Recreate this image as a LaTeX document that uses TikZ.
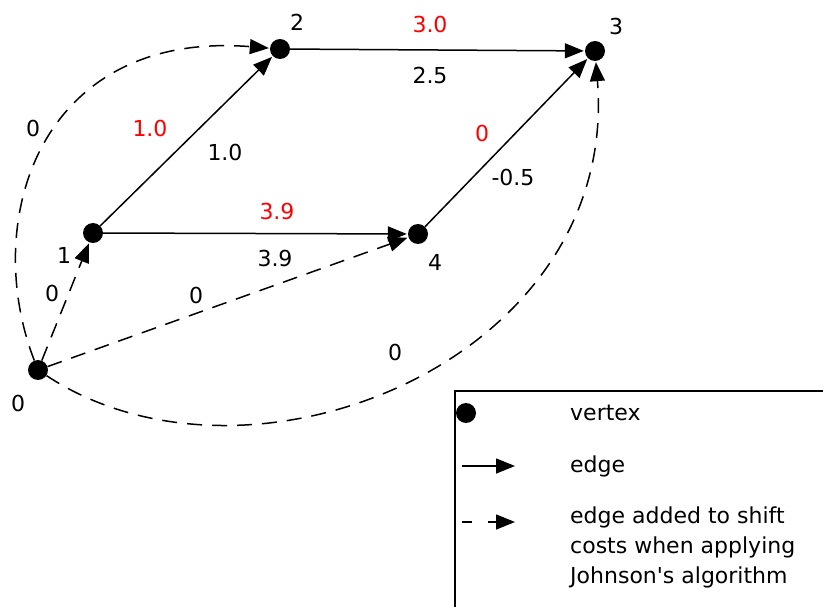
\documentclass[tikz,border=0pt]{standalone}
\usepackage{fontspec}
\setmainfont[Ligatures=NoCommon]{DejaVu Sans}
\usetikzlibrary{arrows.meta}
\begin{document}
\begin{tikzpicture}[x=1pt,y=-1pt,
  vert/.style={circle,fill=black,inner sep=0pt,minimum size=20pt},
  edg/.style={line width=1.5pt,-{Triangle[length=19pt,width=15pt]},shorten >=1pt},
  dedg/.style={edg,dash pattern=on 15pt off 10pt},
  lbl/.style={font=\fontsize{22}{26}\selectfont,inner sep=0pt},
  rlbl/.style={lbl,text={rgb,255:red,255;green,0;blue,0}}]
\useasboundingbox (0,0) rectangle (823,607);
\node[vert] (v0) at (38,370) {};
\node[vert] (v1) at (93,233) {};
\node[vert] (v2) at (280,49) {};
\node[vert] (v3) at (595,51) {};
\node[vert] (v4) at (418,234) {};
\node[lbl] (n0) at (18,403) {0};
\node[lbl] (n1) at (64,255) {1};
\node[lbl] (n2) at (297,22) {2};
\node[lbl] (n3) at (616,26) {3};
\node[lbl] (n4) at (435,262) {4};
\draw[edg] (v1) -- (v2);
\draw[edg] (v2) -- (v3);
\draw[edg] (v1) -- (v4);
\draw[edg] (v4) -- (v3);
\draw[dedg] (v0) -- (v1);
\draw[dedg] (v0) -- (v4);
\draw[dedg] (v0) .. controls (-20,220) and (40,30) .. (v2);
\draw[dedg] (v0) .. controls (250,510) and (620,360) .. (v3);
\node[rlbl] (r12) at (150,128) {1.0};
\node[lbl] (b12) at (225,152) {1.0};
\node[rlbl] (r23) at (430,24) {3.0};
\node[lbl] (b23) at (430,75) {2.5};
\node[rlbl] (r14) at (277,211) {3.9};
\node[lbl] (b14) at (275,258) {3.9};
\node[rlbl] (r43) at (482,133) {0};
\node[lbl] (b43) at (513,177) {-0.5};
\node[lbl] (d01) at (52,293) {0};
\node[lbl] (d04) at (196,295) {0};
\node[lbl] (d03) at (395,352) {0};
\node[lbl] (d02) at (33,128) {0};
% legend
\draw[line width=1.3pt] (830,391) -- (455,391) -- (455,615);
\node[circle,fill=black,inner sep=0pt,minimum size=20pt] (lv) at (466,413) {};
\node[lbl,anchor=west] (tv) at (570,413) {vertex};
\coordinate (le1) at (462,466);
\coordinate (le2) at (516,466);
\draw[edg] (le1) -- (le2);
\node[lbl,anchor=west] (te) at (570,466) {edge};
\coordinate (ld1) at (462,522);
\coordinate (ld2) at (516,522);
\draw[edg,dash pattern=on 10pt off 16pt] (ld1) -- (ld2);
\node[lbl,anchor=north west,align=left,font=\fontsize{22}{30}\selectfont] (td) at (570,507) {edge added to shift\\costs when applying\\Johnson\textquotesingle s algorithm};
\end{tikzpicture}
\end{document}
